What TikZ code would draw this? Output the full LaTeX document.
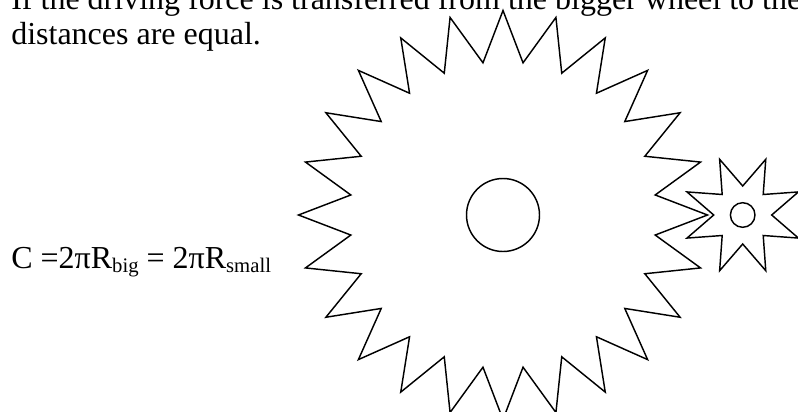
\documentclass[tikz,border=0pt]{standalone}
\usepackage{fontspec}
\setmainfont{Liberation Serif}
\tikzset{
  px/.style={x=1pt,y=-1pt},
  wheel/.style={draw=black,line width=1.45pt,line join=miter,miter limit=10},
  txt/.style={anchor=base west,inner sep=0pt,outer sep=0pt,font=\fontsize{32pt}{36pt}\selectfont,text=black}
}
\newcommand{\lowsub}[1]{\raisebox{-4.2pt}{\fontsize{20.7pt}{24pt}\selectfont #1}}
\begin{document}
\begin{tikzpicture}[px]
\useasboundingbox (0,0) rectangle (798,412);
\clip (0,0) rectangle (798,412);
\node[txt] (line1) at (11.3,9.7) {If the driving force is transferred from the bigger wheel to the};
\node[txt] (line2) at (11.3,45) {distances are equal.};
\node[txt] (formula) at (11.3,268) {C =2πR\lowsub{big} = 2πR\lowsub{small}};
% big wheel
\coordinate (bigc) at (503,215);
\draw[wheel] plot[samples at={0,1,...,47},variable=\k]
  ({503+(mod(\k,2)==0?204.5:153.5)*sin(\k*7.5)},{215-(mod(\k,2)==0?204.5:153.5)*cos(\k*7.5)}) -- cycle;
\node[wheel,circle,minimum size=73pt,inner sep=0pt] (bighub) at (bigc) {};
% small wheel
\coordinate (smallc) at (742.7,215);
\draw[wheel] plot[samples at={0,1,...,15},variable=\k]
  ({742.7+(mod(\k,2)==0?29:60.3)*cos(\k*22.5)},{215-(mod(\k,2)==0?29:60.3)*sin(\k*22.5)}) -- cycle;
\node[wheel,circle,minimum size=24.6pt,inner sep=0pt] (smallhub) at (smallc) {};
\end{tikzpicture}
\end{document}
